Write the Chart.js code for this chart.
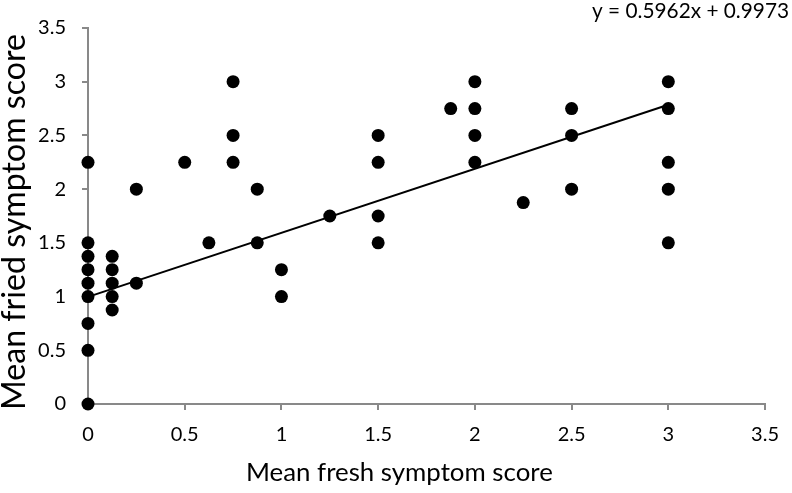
<!DOCTYPE html>
<html>
<head>
<meta charset="utf-8">
<script src="https://cdn.jsdelivr.net/npm/chart.js@4"></script>
<style>
  body { margin: 0; background: #fff; }
  #box { width: 792px; height: 493px; position: relative; }
</style>
</head>
<body>
<div id="box"><canvas id="myChart"></canvas></div>
<script>
// fresh (x) and fried (y) scores, one entry per dot
var freshScore = [0, 0, 0, 0, 0, 0, 0, 0, 0,
  0.125, 0.125, 0.125, 0.125, 0.125,
  0.25, 0.25, 0.5, 0.625, 0.75, 0.75, 0.75, 0.875, 0.875, 1, 1, 1.25,
  1.5, 1.5, 1.5, 1.5, 1.875, 2, 2, 2, 2, 2.25, 2.5, 2.5, 2.5,
  3, 3, 3, 3, 3];
var friedScore = [2.25, 1.5, 1.375, 1.25, 1.125, 1, 0.75, 0.5, 0,
  1.375, 1.25, 1.125, 1, 0.875,
  2, 1.125, 2.25, 1.5, 3, 2.5, 2.25, 2, 1.5, 1.25, 1, 1.75,
  2.5, 2.25, 1.75, 1.5, 2.75, 3, 2.75, 2.5, 2.25, 1.875, 2.75, 2.5, 2,
  3, 2.75, 2.25, 2, 1.5];
var tickValues = [0, 0.5, 1, 1.5, 2, 2.5, 3, 3.5];
var slope = 0.5962;
var intercept = 0.9973;
var trendX = [0, 3];

var puntos = freshScore.map(function (x, i) { return { x: x, y: friedScore[i] }; });
var linha = trendX.map(function (x) { return { x: x, y: slope * x + intercept }; });

var eixoCor = '#898989';
var fonte = 'Lato, "Open Sans", sans-serif';

// sets a font size so the text takes a given width
function textoLargura(ctx, texto, tamanho, largura) {
  ctx.font = tamanho + 'px ' + fonte;
  var w = ctx.measureText(texto).width;
  var novo = tamanho * largura / w;
  ctx.font = novo + 'px ' + fonte;
}

var titulos = {
  id: 'titulos',
  afterDraw: function (chart) {
    var ctx = chart.ctx;
    ctx.save();
    ctx.fillStyle = '#000';

    // equation
    textoLargura(ctx, 'y = 0.5962x + 0.9973', 18, 197);
    ctx.textAlign = 'right';
    ctx.textBaseline = 'alphabetic';
    ctx.fillText('y = 0.5962x + 0.9973', 789, 18);

    // x title
    textoLargura(ctx, 'Mean fresh symptom score', 20, 307);
    ctx.textAlign = 'left';
    ctx.fillText('Mean fresh symptom score', 246, 481);

    // y title
    ctx.translate(25, 410);
    ctx.rotate(-Math.PI / 2);
    textoLargura(ctx, 'Mean fried symptom score', 24, 376);
    ctx.textAlign = 'left';
    ctx.fillText('Mean fried symptom score', 0, 0);
    ctx.restore();
  }
};

function rotulo(value) {
  return String(value);
}

const ctx = document.getElementById('myChart');

new Chart(ctx, {
  data: {
    datasets: [{
      type: 'line',
      label: 'Trend',
      data: linha,
      borderColor: '#000',
      borderWidth: 2,
      pointRadius: 0,
      fill: false,
      clip: false
    }, {
      type: 'scatter',
      label: 'Scores',
      data: puntos,
      backgroundColor: '#000',
      borderColor: '#000',
      pointRadius: 6.5,
      borderWidth: 0,
      clip: false
    }]
  },
  options: {
    responsive: true,
    maintainAspectRatio: false,
    animation: false,
    layout: { padding: { left: 0, right: 14, top: 7, bottom: 0 } },
    plugins: {
      legend: { display: false },
      tooltip: { enabled: false }
    },
    scales: {
      x: {
        type: 'linear',
        min: 0,
        max: 3.5,
        afterBuildTicks: function (scale) {
          scale.ticks = tickValues.map(function (v) { return { value: v }; });
        },
        afterFit: function (scale) { scale.height = 89; },
        border: { color: eixoCor, width: 2 },
        grid: { drawOnChartArea: false, color: eixoCor, lineWidth: 2, tickLength: 6 },
        ticks: {
          color: '#000',
          padding: 13,
          maxRotation: 0,
          callback: rotulo,
          font: { family: fonte, size: 20 }
        }
      },
      y: {
        type: 'linear',
        min: 0,
        max: 3.5,
        afterBuildTicks: function (scale) {
          scale.ticks = tickValues.map(function (v) { return { value: v }; });
        },
        afterFit: function (scale) { scale.width = 88; },
        border: { color: eixoCor, width: 2 },
        grid: { drawOnChartArea: false, color: eixoCor, lineWidth: 2, tickLength: 6 },
        ticks: {
          color: '#000',
          padding: 16,
          callback: rotulo,
          font: { family: fonte, size: 20 }
        }
      }
    }
  },
  plugins: [titulos]
});
</script>
</body>
</html>
